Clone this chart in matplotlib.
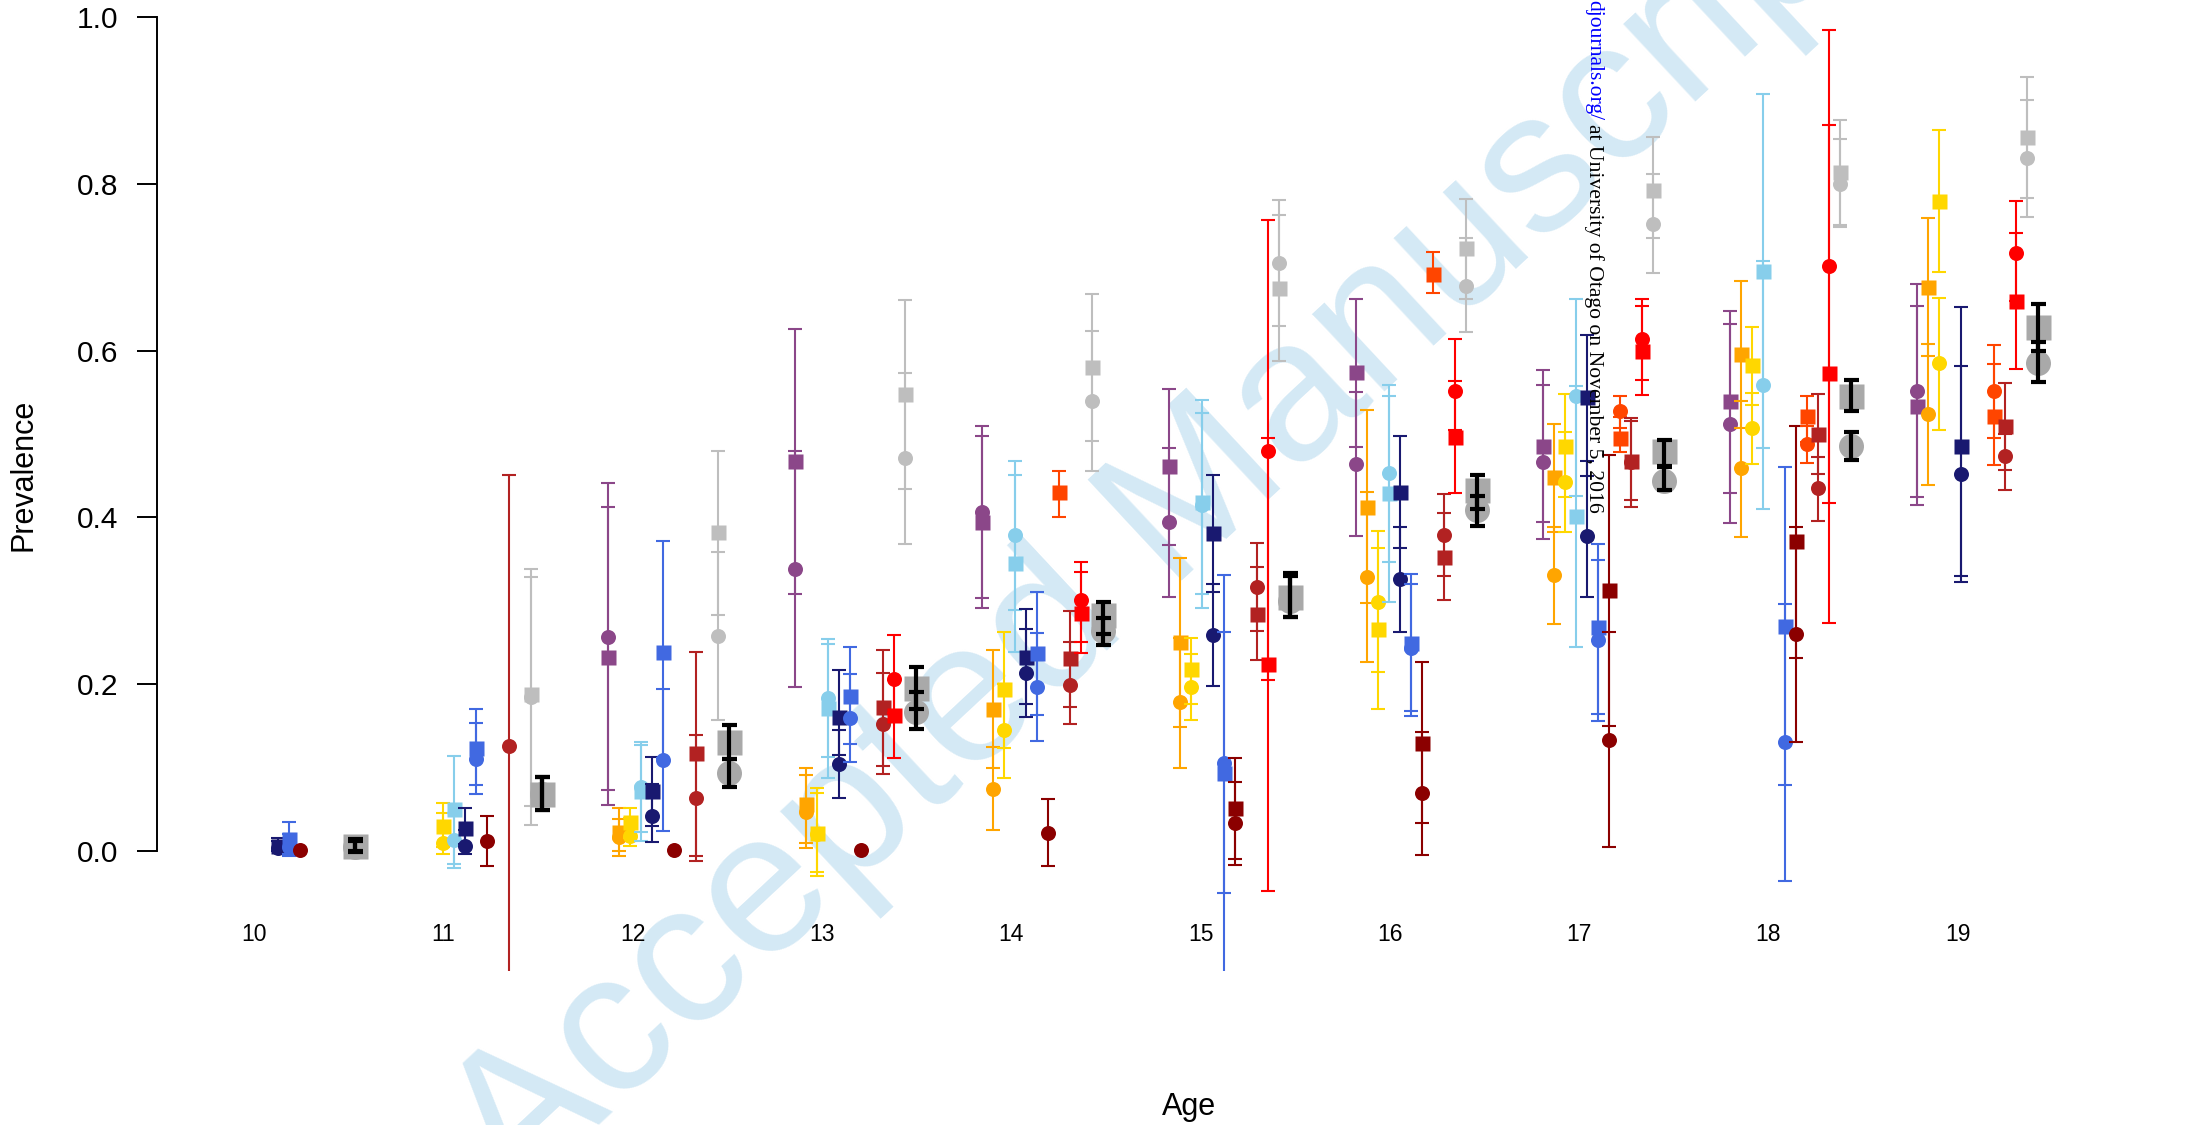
import numpy as np
import matplotlib
matplotlib.use("Agg")
import matplotlib.pyplot as plt

plt.rcParams['font.family'] = ['Liberation Sans', 'DejaVu Sans']

nan = np.nan
NA = (nan, nan, nan)

ages = np.arange(10, 20)
age_labels = [str(a) for a in ages]
y_ticks = [0.0, 0.2, 0.4, 0.6, 0.8, 1.0]

# Each entry: (estimate, lower, upper) for ages 10..19; circles and squares are two estimates per group
orchid_circle = [NA, NA, (.256, .073, .441), (.338, .196, .479), (.406, .303, .509), (.394, .304, .483),
                 (.464, .378, .550), (.466, .374, .559), (.512, .393, .632), (.552, .424, .680)]
orchid_square = [NA, NA, (.233, .055, .412), (.468, .308, .626), (.394, .291, .497), (.461, .367, .554),
                 (.574, .484, .662), (.486, .394, .577), (.539, .429, .648), (.534, .415, .653)]

orange_circle = [NA, NA, (.017, -.006, .038), (.047, .004, .091), (.074, .025, .125), (.179, .100, .255),
                 (.329, .226, .431), (.331, .272, .388), (.459, .377, .539), (.524, .439, .608)]
orange_square = [NA, NA, (.023, .000, .051), (.056, .010, .099), (.170, .099, .241), (.250, .149, .351),
                 (.413, .297, .529), (.448, .383, .512), (.596, .507, .683), (.676, .594, .759)]

gold_circle = [NA, (.010, -.004, .045), (.018, .006, .040), (.020, -.025, .069), (.145, .087, .200),
               (.196, .157, .236), (.299, .215, .384), (.442, .382, .502), (.507, .464, .549), (.585, .505, .663)]
gold_square = [NA, (.030, .005, .057), (.035, .015, .051), (.022, -.030, .075), (.194, .124, .263),
               (.218, .176, .255), (.266, .170, .363), (.486, .424, .548), (.583, .535, .628), (.779, .694, .865)]

sky_circle = [NA, (.013, -.020, .045), (.077, .023, .131), (.183, .113, .254), (.379, .289, .467),
              (.415, .291, .525), (.453, .346, .559), (.545, .426, .662), (.559, .410, .708), NA]
sky_square = [NA, (.050, -.016, .114), (.072, .012, .127), (.171, .087, .248), (.345, .239, .451),
              (.418, .308, .541), (.429, .298, .545), (.402, .244, .557), (.696, .483, .908), NA]

navy_circle = [(.003, .000, .012), (.006, -.004, .025), (.042, .011, .080), (.104, .063, .145),
               (.213, .161, .266), (.259, .198, .320), (.326, .263, .389), (.378, .304, .468), NA,
               (.452, .322, .582)]
navy_square = [(.006, .000, .015), (.028, .008, .051), (.072, .030, .113), (.161, .115, .217),
               (.233, .176, .290), (.381, .311, .451), (.431, .363, .498), (.544, .450, .619), NA,
               (.486, .330, .652)]

royal_circle = [(.005, -.004, .020), (.110, .068, .153), (.109, .024, .194), (.159, .107, .212),
                (.197, .132, .261), (.106, -.051, .331), (.243, .162, .320), (.253, .156, .349),
                (.131, -.036, .296), NA]
royal_square = [(.014, -.006, .035), (.124, .079, .170), (.238, .112, .372), (.186, .128, .245),
                (.237, .163, .310), (.093, -.200, .262), (.249, .168, .332), (.269, .164, .368),
                (.270, .079, .460), NA]

darkred_circle = [(.001, nan, nan), (.012, -.018, .042), (.001, nan, nan), (.001, nan, nan),
                  (.022, -.018, .062), (.033, -.017, .083), (.070, -.005, .143), (.133, .005, .262),
                  (.260, .131, .388), NA]
darkred_square = [NA, NA, NA, NA, NA, (.051, -.010, .111), (.130, .034, .226), (.313, .150, .475),
                  (.372, .231, .509), NA]

orangered_circle = [NA, NA, NA, NA, NA, NA, NA, (.527, .507, .545), (.488, .465, .510), (.551, .495, .607)]
orangered_square = [NA, NA, NA, NA, (.430, .400, .455), NA, (.692, .669, .718), (.495, .478, .520),
                    (.521, .490, .546), (.522, .463, .584)]

firebrick_circle = [NA, (.126, -.200, .451), (.063, -.012, .139), (.152, .092, .213), (.199, .152, .250),
                    (.316, .264, .369), (.379, .330, .428), (.466, .413, .515), (.435, .396, .472),
                    (.473, .433, .500)]
firebrick_square = [NA, NA, (.117, -.006, .239), (.172, .102, .241), (.231, .173, .288), (.284, .229, .340),
                    (.352, .301, .405), (.467, .421, .519), (.500, .452, .548), (.509, .457, .561)]

red_circle = [NA, NA, NA, (.206, .165, .259), (.301, .251, .347), (.480, .205, .757), (.551, .505, .614),
              (.614, .565, .662), (.701, .417, .985), (.717, .660, .779)]
red_square = [NA, NA, NA, (.163, .112, .205), (.285, .237, .334), (.224, -.048, .495), (.496, .429, .563),
              (.600, .547, .653), (.573, .273, .871), (.660, .578, .741)]

gray_circle = [NA, (.185, .031, .328), (.258, .157, .359), (.471, .368, .573), (.540, .455, .624),
               (.705, .630, .781), (.678, .622, .735), (.752, .693, .812), (.800, .748, .854), (.831, .760, .901)]
gray_square = [NA, (.188, .054, .338), (.382, .283, .480), (.548, .434, .661), (.580, .491, .668),
               (.675, .587, .762), (.723, .662, .782), (.793, .735, .856), (.814, .750, .877), (.856, .783, .928)]

overall_circle = [(.005, .000, .012), (.068, .049, .089), (.094, .077, .110), (.167, .146, .190),
                  (.264, .247, .279), (.300, .280, .330), (.409, .390, .426), (.444, .433, .462),
                  (.485, .469, .502), (.585, .562, .610)]
overall_square = [(.006, -.001, .014), (.068, .049, .089), (.131, .110, .151), (.195, .170, .220),
                  (.283, .260, .298), (.305, .281, .333), (.433, .410, .451), (.479, .460, .493),
                  (.546, .528, .565), (.628, .600, .656)]

groups = [
    ('#8B4789', orchid_circle, orchid_square),
    ('#FFA500', orange_circle, orange_square),
    ('#FFD700', gold_circle, gold_square),
    ('#87CEEB', sky_circle, sky_square),
    ('#191970', navy_circle, navy_square),
    ('#4169E1', royal_circle, royal_square),
    ('#8B0000', darkred_circle, darkred_square),
    ('#FF4500', orangered_circle, orangered_square),
    ('#B22222', firebrick_circle, firebrick_square),
    ('#FF0000', red_circle, red_square),
    ('#BEBEBE', gray_circle, gray_square),
]

W, H = 2212, 1125
fig = plt.figure(figsize=(W / 100, H / 100), dpi=100)
ax = fig.add_axes([157 / W, 1 - 971 / H, (W - 157) / W, 971 / H])
ax.patch.set_alpha(0)

step = 0.0588
ax.set_xlim(9.441, 20.430)
ax.set_ylim(-0.144, 1.0204)

for i, (color, circ, sq) in enumerate(groups):
    x = ages + (i - 2.5) * step
    for data, marker in ((circ, 'o'), (sq, 's')):
        est, lo, hi = np.array(data, float).T
        m = np.isfinite(lo)
        ax.errorbar(x[m], est[m], yerr=[est[m] - lo[m], hi[m] - est[m]], fmt='none',
                    ecolor=color, elinewidth=1.5, capsize=4.7, capthick=1.5, zorder=2 + i * 0.1)
        ax.plot(x, est, ls='none', marker=marker, ms=10.8, mfc=color, mec='none',
                zorder=2.05 + i * 0.1)

# pooled estimate: large grey markers with heavy black intervals
x_all = ages + (11 - 2.5) * step
for data, marker in ((overall_circle, 'o'), (overall_square, 's')):
    est, lo, hi = np.array(data, float).T
    ax.plot(x_all, est, ls='none', marker=marker, ms=18, mfc='#A9A9A9', mec='none', zorder=4)
    ax.errorbar(x_all, est, yerr=[est - lo, hi - est], fmt='none', ecolor='black',
                elinewidth=3.0, capsize=5.4, capthick=3.0, zorder=4.5)

# axes styling
for side in ('top', 'right', 'bottom'):
    ax.spines[side].set_visible(False)
ax.spines['left'].set_bounds(0, 1)
ax.spines['left'].set_linewidth(1.4)
ax.set_xticks([])
ax.set_yticks(y_ticks)
ax.set_yticklabels([f'{t:.1f}' for t in y_ticks])
ax.tick_params(axis='y', direction='out', length=14.4, width=1.4, pad=13.5, labelsize=21.5)

label_x = np.linspace(9.96, 19.07, len(ages))
for lx, lab in zip(label_x, age_labels):
    ax.text(lx, -0.1, lab, ha='center', va='center', fontsize=16.5)

fig.text(1189 / W, 1 - 1107 / H, 'Age', ha='center', va='center', fontsize=22)
fig.text(24 / W, 1 - 475 / H, 'Prevalence', ha='center', va='center', rotation=90, fontsize=22)

# watermark behind the data, anchored at its lower-left start
fig.text(480 / W, 1 - 1165 / H, 'Accepted Manuscript', rotation=43.0, rotation_mode='anchor',
         ha='left', va='center', fontsize=145, color='#D4E9F5', zorder=-1)

# download stamp along the right side
fig.text(1594 / W, 1.0, 'djournals.org/', rotation=-90, ha='center', va='top',
         fontsize=15.6, color='#0000FF', family='Liberation Serif', zorder=10)
fig.text(1594 / W, 1 - 124 / H, 'at University of Otago on November 5, 2016', rotation=-90,
         ha='center', va='top', fontsize=15.6, color='black', family='Liberation Serif', zorder=10)

fig.savefig('out.png', dpi=100)
